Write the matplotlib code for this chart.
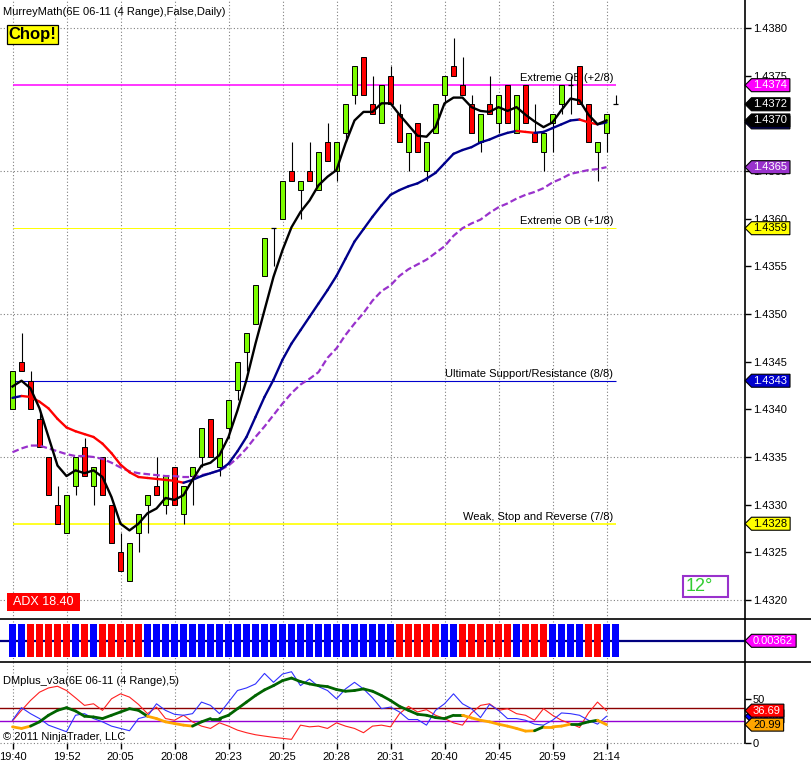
import matplotlib
matplotlib.use('Agg')
import matplotlib.pyplot as plt
from matplotlib.collections import LineCollection
from matplotlib.patches import Rectangle, Polygon
from matplotlib.lines import Line2D
from matplotlib.transforms import IdentityTransform
import numpy as np

plt.rcParams['font.family'] = ['Liberation Sans', 'DejaVu Sans']
plt.rcParams['font.size'] = 8

W, H = 811, 771

# ---- data ----
time_labels = ['19:40', '19:52', '20:05', '20:08', '20:23', '20:25',
               '20:28', '20:31', '20:40', '20:45', '20:59', '21:14']

opens = [1.4340, 1.4345, 1.4343, 1.4339, 1.4335, 1.4330, 1.4327, 1.4332, 1.4336, 1.4332,
         1.4335, 1.4330, 1.4325, 1.4322, 1.4327, 1.4330, 1.4332, 1.4330, 1.4334, 1.4329,
         1.4333, 1.4335, 1.4339, 1.4334, 1.4338, 1.4342, 1.4346, 1.4349, 1.4354, 1.4359,
         1.4360, 1.4365, 1.4363, 1.4365, 1.4363, 1.4368, 1.4365, 1.4369, 1.4373, 1.4377,
         1.4372, 1.4370, 1.4375, 1.4371, 1.4367, 1.4370, 1.4365, 1.4369, 1.4373, 1.4376,
         1.4374, 1.4372, 1.4368, 1.4372, 1.4370, 1.4374, 1.4369, 1.4374, 1.4369, 1.4367,
         1.4370, 1.4372, 1.4374, 1.4376, 1.4372, 1.4367, 1.4369, 1.4372]
highs = [1.4344, 1.4348, 1.4344, 1.4340, 1.4335, 1.4332, 1.4331, 1.4335, 1.4337, 1.4334,
         1.4335, 1.4330, 1.4327, 1.4326, 1.4329, 1.4331, 1.4335, 1.4333, 1.4334, 1.4332,
         1.4334, 1.4338, 1.4339, 1.4337, 1.4341, 1.4345, 1.4348, 1.4353, 1.4358, 1.4359,
         1.4364, 1.4368, 1.4364, 1.4368, 1.4367, 1.4370, 1.4368, 1.4372, 1.4376, 1.4377,
         1.4375, 1.4374, 1.4376, 1.4372, 1.4369, 1.4370, 1.4368, 1.4372, 1.4375, 1.4379,
         1.4377, 1.4373, 1.4371, 1.4375, 1.4373, 1.4374, 1.4373, 1.4374, 1.4372, 1.4369,
         1.4371, 1.4374, 1.4375, 1.4376, 1.4372, 1.4368, 1.4371, 1.4373]
lows = [1.4340, 1.4344, 1.4340, 1.4336, 1.4331, 1.4328, 1.4327, 1.4331, 1.4333, 1.4330,
        1.4331, 1.4326, 1.4323, 1.4322, 1.4325, 1.4327, 1.4331, 1.4329, 1.4330, 1.4328,
        1.4330, 1.4334, 1.4335, 1.4333, 1.4337, 1.4341, 1.4344, 1.4349, 1.4354, 1.4355,
        1.4360, 1.4364, 1.4360, 1.4364, 1.4363, 1.4366, 1.4364, 1.4368, 1.4372, 1.4373,
        1.4371, 1.4370, 1.4372, 1.4368, 1.4365, 1.4367, 1.4364, 1.4369, 1.4372, 1.4375,
        1.4373, 1.4369, 1.4367, 1.4371, 1.4369, 1.4370, 1.4369, 1.4370, 1.4368, 1.4365,
        1.4367, 1.4371, 1.4371, 1.4372, 1.4368, 1.4364, 1.4367, 1.4372]
closes = [1.4344, 1.4344, 1.4340, 1.4336, 1.4331, 1.4328, 1.4331, 1.4335, 1.4333, 1.4334,
          1.4331, 1.4326, 1.4323, 1.4326, 1.4329, 1.4331, 1.4331, 1.4333, 1.4330, 1.4332,
          1.4334, 1.4338, 1.4335, 1.4337, 1.4341, 1.4345, 1.4348, 1.4353, 1.4358, 1.4359,
          1.4364, 1.4364, 1.4364, 1.4364, 1.4367, 1.4366, 1.4368, 1.4372, 1.4376, 1.4373,
          1.4371, 1.4374, 1.4372, 1.4368, 1.4369, 1.4367, 1.4368, 1.4372, 1.4375, 1.4375,
          1.4373, 1.4369, 1.4371, 1.4371, 1.4373, 1.4370, 1.4373, 1.4370, 1.4368, 1.4369,
          1.4371, 1.4374, 1.4374, 1.4372, 1.4368, 1.4368, 1.4371, 1.4372]

fast_ma = [1.43424, 1.43430, 1.43422, 1.43401, 1.43371, 1.43341, 1.43330, 1.43336, 1.43333, 1.43336,
           1.43329, 1.43308, 1.43280, 1.43273, 1.43280, 1.43291, 1.43296, 1.43307, 1.43305, 1.43310,
           1.43326, 1.43341, 1.43344, 1.43352, 1.43371, 1.43399, 1.43431, 1.43469, 1.43504, 1.43539,
           1.43567, 1.43591, 1.43607, 1.43619, 1.43635, 1.43644, 1.43651, 1.43679, 1.43703, 1.43712,
           1.43712, 1.43721, 1.43721, 1.43709, 1.43698, 1.43687, 1.43686, 1.43696, 1.43721, 1.43727,
           1.43727, 1.43717, 1.43713, 1.43712, 1.43717, 1.43713, 1.43717, 1.43709, 1.43702, 1.43696,
           1.43701, 1.43714, 1.43726, 1.43724, 1.43709, 1.43699, 1.43703]
mid_ma = [1.43412, 1.43414, 1.43413, 1.43408, 1.43401, 1.43390, 1.43381, 1.43377, 1.43374, 1.43371,
          1.43364, 1.43354, 1.43342, 1.43334, 1.43329, 1.43328, 1.43327, 1.43326, 1.43325, 1.43323,
          1.43326, 1.43330, 1.43333, 1.43336, 1.43343, 1.43356, 1.43371, 1.43392, 1.43413, 1.43431,
          1.43452, 1.43469, 1.43483, 1.43497, 1.43511, 1.43525, 1.43540, 1.43558, 1.43576, 1.43589,
          1.43602, 1.43614, 1.43625, 1.43630, 1.43634, 1.43637, 1.43642, 1.43648, 1.43658, 1.43668,
          1.43672, 1.43675, 1.43680, 1.43683, 1.43687, 1.43690, 1.43692, 1.43691, 1.43690, 1.43691,
          1.43695, 1.43699, 1.43703, 1.43704, 1.43701, 1.43699, 1.43701]
slow_ma = [1.43355, 1.43359, 1.43362, 1.43362, 1.43359, 1.43356, 1.43353, 1.43351, 1.43351, 1.43350,
           1.43348, 1.43344, 1.43339, 1.43335, 1.43333, 1.43332, 1.43331, 1.43330, 1.43330, 1.43329,
           1.43329, 1.43331, 1.43333, 1.43336, 1.43341, 1.43349, 1.43359, 1.43371, 1.43382, 1.43394,
           1.43406, 1.43417, 1.43426, 1.43432, 1.43439, 1.43454, 1.43464, 1.43478, 1.43490, 1.43501,
           1.43514, 1.43524, 1.43530, 1.43540, 1.43547, 1.43552, 1.43557, 1.43564, 1.43571, 1.43582,
           1.43590, 1.43595, 1.43599, 1.43606, 1.43612, 1.43616, 1.43621, 1.43625, 1.43628, 1.43632,
           1.43638, 1.43642, 1.43647, 1.43649, 1.43651, 1.43652, 1.43654]

mm_levels = [1.4374, 1.4359, 1.4343, 1.4328]
mm_names = ['Extreme OB (+2/8)', 'Extreme OB (+1/8)',
            'Ultimate Support/Resistance (8/8)', 'Weak, Stop and Reverse (7/8)']

# B = blue (up), R = red (down) for the trend strip
trend_dir = 'BB' + 'RRRRR' + 'B' + 'R' + 'B' + 'RRRRR' + 'B' * 28 + 'RRRRR' + 'BB' + \
            'RRRRRR' + 'B' + 'RRR' + 'BBBB' + 'RR' + 'BB'
trend_value = 0.00362

dm_plus = [25.9, 40.0, 33.3, 27.8, 20.4, 16.7, 13.0, 31.5, 33.3, 27.8,
           24.1, 19.3, 16.7, 14.1, 27.8, 30.4, 44.4, 37.0, 32.6, 31.5,
           33.3, 46.3, 42.6, 33.3, 46.3, 59.3, 62.2, 66.7, 78.5, 68.5,
           77.8, 80.4, 64.8, 72.2, 63.7, 59.3, 50.0, 61.1, 68.5, 61.1,
           51.1, 38.9, 40.7, 35.2, 26.7, 26.7, 20.4, 37.0, 44.4, 55.6,
           44.4, 38.9, 28.9, 43.7, 37.0, 27.8, 27.8, 25.9, 21.5, 20.4,
           25.9, 34.1, 33.3, 31.5, 25.9, 21.5, 30.33]
dm_minus = [25.2, 37.0, 48.1, 57.4, 62.2, 64.1, 59.3, 51.1, 42.6, 44.4,
            37.0, 50.0, 55.6, 51.9, 43.7, 33.3, 40.7, 27.8, 25.9, 31.5,
            24.1, 19.3, 16.7, 23.0, 19.3, 14.8, 11.9, 9.6, 8.1, 6.7,
            5.6, 4.4, 20.4, 18.5, 19.3, 16.7, 23.0, 19.3, 16.7, 11.9,
            19.3, 20.4, 18.5, 33.3, 41.5, 35.2, 37.8, 31.5, 27.8, 23.0,
            20.4, 34.1, 42.6, 44.4, 37.0, 38.9, 33.3, 31.5, 25.9, 38.9,
            31.5, 25.9, 22.2, 17.8, 34.1, 46.3, 36.69]
adx = [18.5, 16.7, 19.3, 24.1, 31.5, 37.0, 40.0, 36.3, 30.4, 29.6,
       27.8, 31.5, 35.2, 38.9, 37.0, 30.4, 27.8, 24.1, 22.2, 20.4,
       19.3, 24.1, 27.8, 27.8, 31.5, 38.9, 46.3, 53.7, 60.0, 64.8,
       70.4, 73.3, 69.3, 66.7, 64.8, 63.7, 60.4, 58.5, 59.3, 61.1,
       58.5, 53.7, 48.1, 41.5, 37.0, 32.6, 31.5, 28.9, 27.8, 31.5,
       31.5, 28.5, 25.9, 24.1, 21.5, 19.3, 16.7, 13.7, 14.1, 18.5,
       18.5, 19.3, 21.5, 21.5, 24.1, 25.9, 20.99]
# g = green, o = orange for each ADX segment
adx_state = 'oo' + 'g' * 13 + 'o' * 5 + 'g' * 30 + 'o' * 8 + 'g' + 'ooo' + 'ggg' + 'o'
dm_levels = [40, 25]

adx_box = 18.40
angle_deg = 12


def fig_rect(x0, y0, x1, y1, **kw):
    fig.add_artist(Rectangle((x0 / W, 1 - y1 / H), (x1 - x0) / W, (y1 - y0) / H,
                             transform=fig.transFigure, **kw))


def fig_text(x, y, s, **kw):
    fig.text(x / W, 1 - y / H, s, **kw)


def fig_line(x0, y0, x1, y1, **kw):
    fig.add_artist(Line2D([x0 / W, x1 / W], [1 - y0 / H, 1 - y1 / H],
                          transform=fig.transFigure, **kw))


def seg_line(ax, x, y, colors, lw, z):
    pts = np.column_stack([x, y])
    segs = np.stack([pts[:-1], pts[1:]], axis=1)
    ax.add_collection(LineCollection(segs, colors=colors, linewidths=lw,
                                     zorder=z, capstyle='round', joinstyle='round'))


fig = plt.figure(figsize=(W / 100, H / 100), dpi=100)
fig.patch.set_facecolor('white')

ax1 = fig.add_axes([0, 1 - 619.3 / H, 745 / W, 619.3 / H])
ax2 = fig.add_axes([0, 1 - 662.3 / H, 745 / W, 43 / H], sharex=ax1)
ax3 = fig.add_axes([0, 1 - 743.3 / H, 745 / W, 81 / H], sharex=ax1)

grid_kw = dict(color='#808080', lw=0.8, ls=(0, (1, 2)))
for ax in (ax1, ax2, ax3):
    for s in ax.spines.values():
        s.set_visible(False)
    ax.set_facecolor('white')
    ax.grid(True, axis='x', **grid_kw)
    ax.set_axisbelow(True)

ax1.set_xlim(-12.5 / 9, (745 - 12.5) / 9)
ax3.set_xticks(range(0, 12 * 6, 6))
ax3.set_xticklabels(time_labels)
ax1.tick_params(axis='x', length=0, labelbottom=False)
ax2.tick_params(axis='x', length=0, labelbottom=False)
ax3.tick_params(axis='x', length=4, width=1, pad=2, labelsize=8, direction='out')

# ---- main price panel ----
o = np.array(opens)
h = np.array(highs)
l = np.array(lows)
c = np.array(closes)
idx = np.arange(len(o))
up = c > o
dn = c < o
flat = c == o

ax1.set_ylim(1.4380 - 591.3 / 95333, 1.4380 + 28 / 95333)
for g in [1.4320, 1.4335, 1.4350, 1.4365, 1.4380]:
    ax1.axhline(g, zorder=0.5, **grid_kw)

mm_colors = ['#FF00FF', '#FFFF00', '#0000CD', '#FFFF00']
mm_widths = [1.1, 0.7, 0.8, 1.2]
for lev, name, col, lw in zip(mm_levels, mm_names, mm_colors, mm_widths):
    ax1.hlines(lev, 0, idx[-1], color=col, lw=lw, zorder=1)
    ax1.annotate(name, (idx[-1] - 0.25, lev), xytext=(0, 1.5), textcoords='offset points',
                 ha='right', va='bottom', fontsize=8, color='black', zorder=1.5)

ax1.vlines(idx, l, h, color='black', lw=0.8, zorder=3)
ax1.bar(idx[up], (c - o)[up], bottom=o[up], width=0.58, color='#7CFC00',
        edgecolor='black', lw=0.7, zorder=3.5)
ax1.bar(idx[dn], (o - c)[dn], bottom=c[dn], width=0.58, color='#FF0000',
        edgecolor='black', lw=0.7, zorder=3.5)
ax1.hlines(c[flat], idx[flat] - 0.32, idx[flat] + 0.32, color='black', lw=0.9, zorder=3.5)

mx = np.arange(len(slow_ma))
ax1.plot(mx, slow_ma, color='#9932CC', lw=1.6, dashes=(3, 1.4), zorder=4)
mid = np.array(mid_ma)
mid_cols = ['#FF0000' if mid[i + 1] < mid[i] else '#00008B' for i in range(len(mid) - 1)]
seg_line(ax1, mx, mid, mid_cols, 1.7, 5)
ax1.plot(mx, fast_ma, color='black', lw=1.7, zorder=6, solid_joinstyle='round')
ax1.set_yticks(np.arange(1.4320, 1.43801, 0.0005))
ax1.yaxis.set_major_formatter(matplotlib.ticker.FormatStrFormatter('%.4f'))
ax1.yaxis.tick_right()
ax1.tick_params(axis='y', length=4, width=1, pad=1.5, labelsize=8, direction='out')

# ---- trend strip ----
ax2.set_ylim(-1.3, 1.3)
ax2.axhline(0, color='#000080', lw=1.6, zorder=2)
strip_cols = ['#0000FF' if d == 'B' else '#FF0000' for d in trend_dir]
ax2.bar(np.arange(len(trend_dir)), 2, bottom=-1, width=0.78, color=strip_cols, zorder=3)
ax2.set_yticks([])

# ---- DMI panel ----
ax3.set_ylim(0, 91)
ax3.axhline(0, clip_on=False, **grid_kw)
ax3.axhline(dm_levels[0], color='#8B0000', lw=1.0, zorder=1)
ax3.axhline(dm_levels[1], color='#9400D3', lw=1.0, zorder=1)
dx = np.arange(len(adx))
ax3.plot(dx, dm_minus, color='#FF2020', lw=0.8, zorder=2)
ax3.plot(dx, dm_plus, color='#3030FF', lw=0.8, zorder=2)
adx_cols = ['#006400' if s == 'g' else '#FFA500' for s in adx_state]
seg_line(ax3, dx, np.array(adx), adx_cols, 2.0, 3)
ax3.yaxis.tick_right()
ax3.set_yticks([0, 50])
ax3.tick_params(axis='y', length=4, width=1, pad=1.5, labelsize=8, direction='out')

# ---- frame lines ----
fig_line(0, 619.3, W, 619.3, color='black', lw=1.2)
fig_line(0, 662.3, W, 662.3, color='black', lw=1.2)
fig_line(745, 0, 745, 743.3, color='black', lw=1.2)

# ---- texts and boxes ----
fig_text(3, 12, 'MurreyMath(6E 06-11 (4 Range),False,Daily)', fontsize=8, va='center')
fig_rect(7, 25, 58, 44, fc='#FFFF00', ec='black', lw=0.9)
fig_text(32.5, 35, 'Chop!', fontsize=12, fontweight='bold', ha='center', va='center')
fig_rect(7, 593, 80, 611, fc='#FF0000', ec='none')
fig_text(43.5, 602, f'ADX {adx_box:.2f}', fontsize=9, color='white', ha='center', va='center')
fig_rect(683, 576, 728, 597, fc='none', ec='#9932CC', lw=1.5)
fig_text(686, 586.5, f'{angle_deg}\u00b0', fontsize=13, color='#32CD32', va='center')
fig_text(3, 681, 'DMplus_v3a(6E 06-11 (4 Range),5)', fontsize=8, va='center')
fig_text(3, 737, '\u00a9 2011 NinjaTrader, LLC', fontsize=8, va='center')

# ---- right-hand value tags ----
renderer = fig.canvas.get_renderer()
tag_z = [30]


def tag(ax, value, text, bg, fg):
    ypix = ax.transData.transform((0, value))[1]
    x0 = ax.transAxes.transform((1, 0))[0]
    z = tag_z[0]
    tag_z[0] += 2
    t = fig.text(x0 + 8, ypix, text, transform=IdentityTransform(), fontsize=8,
                 color=fg, ha='left', va='center', zorder=z + 1)
    w = t.get_window_extent(renderer).width
    x1 = x0 + 8 + w + 3
    fig.add_artist(Polygon([(x0, ypix), (x0 + 6.5, ypix + 6.5), (x1, ypix + 6.5),
                            (x1, ypix - 6.5), (x0 + 6.5, ypix - 6.5)], closed=True,
                           transform=IdentityTransform(), fc=bg, ec='black', lw=0.8, zorder=z))


tag_cols = [('#FF00FF', 'white'), ('#FFFF00', 'black'), ('#0000CD', 'white'), ('#FFFF00', 'black')]
for lev, (bg, fg) in zip(mm_levels, tag_cols):
    tag(ax1, lev, f'{lev:.4f}', bg, fg)
tag(ax1, slow_ma[-1], f'{slow_ma[-1]:.4f}', '#9932CC', 'white')
tag(ax1, mid_ma[-1], f'{mid_ma[-1]:.4f}', '#00008B', 'white')
tag(ax1, fast_ma[-1], f'{fast_ma[-1]:.4f}', 'black', 'white')
tag(ax1, closes[-1], f'{closes[-1]:.4f}', 'black', 'white')
tag(ax2, 0, f'{trend_value:.5f}', '#FF00FF', 'white')
tag(ax3, dm_plus[-1], f'{dm_plus[-1]:.2f}', '#0000FF', 'white')
tag(ax3, adx[-1], f'{adx[-1]:.2f}', '#FFA500', 'black')
tag(ax3, dm_minus[-1], f'{dm_minus[-1]:.2f}', '#FF0000', 'white')

fig.savefig('out.png', dpi=100)
